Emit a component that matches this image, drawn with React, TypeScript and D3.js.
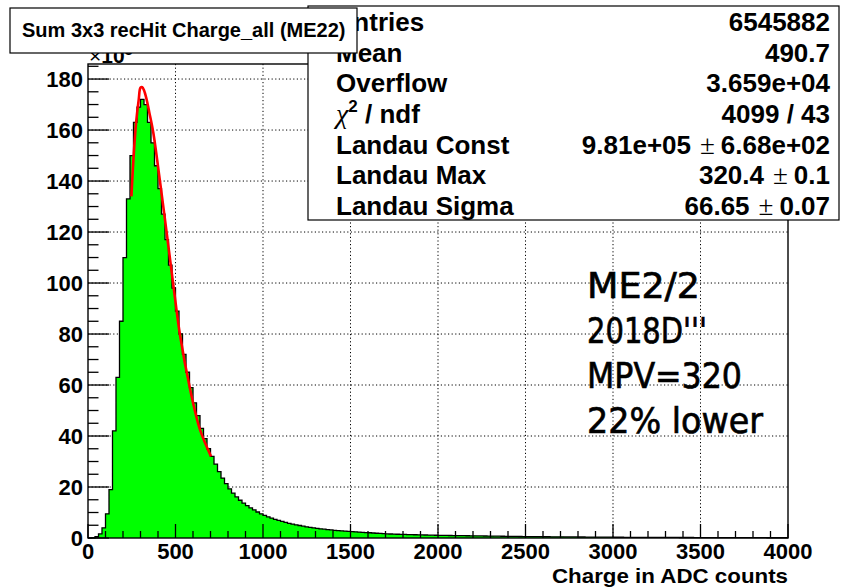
import React from 'react';
import * as d3 from 'd3';

// ---- data (counts in units of 10^3) ----
const binLow = 0;
const binHigh = 4000;
const binCounts = [
  0, 0.1, 0.5, 1.6, 4.0, 9.5, 19, 42, 63, 85,
  110, 133, 150, 163, 169, 172, 170, 163, 155, 146,
  137, 127, 117, 107, 98, 89, 80, 72, 65, 59,
  53, 48, 43, 39, 35, 32, 29, 26, 23.5, 21.3,
  19.3, 17.6, 16.1, 14.8, 13.7, 12.7, 11.8, 11.0, 10.2, 9.5,
  8.9, 8.3, 7.8, 7.3, 6.9, 6.5, 6.1, 5.75, 5.45, 5.15,
  4.9, 4.65, 4.4, 4.2, 4.0, 3.8, 3.6, 3.45, 3.3, 3.15,
  3.0, 2.9, 2.8, 2.7, 2.6, 2.5, 2.41, 2.32, 2.23, 2.14,
  2.05, 1.96, 1.87, 1.78, 1.69, 1.6, 1.56, 1.52, 1.48, 1.44,
  1.4, 1.36, 1.32, 1.28, 1.24, 1.2, 1.17, 1.14, 1.11, 1.08,
  1.05, 1.03, 1.01, 0.99, 0.97, 0.95, 0.93, 0.91, 0.89, 0.87,
  0.85, 0.83, 0.8, 0.78, 0.76, 0.74, 0.72, 0.7, 0.68, 0.66,
  0.64, 0.62, 0.6, 0.58, 0.56, 0.55, 0.54, 0.53, 0.52, 0.51,
  0.5, 0.49, 0.48, 0.47, 0.46, 0.45, 0.44, 0.43, 0.42, 0.41,
  0.4, 0.39, 0.38, 0.37, 0.36, 0.35, 0.34, 0.33, 0.32, 0.31,
  0.3, 0.29, 0.29, 0.28, 0.28, 0.27, 0.27, 0.26, 0.26, 0.25,
  0.25, 0.24, 0.24, 0.23, 0.23, 0.22, 0.22, 0.21, 0.21, 0.2,
  0.2, 0.19, 0.19, 0.18, 0.18, 0.17, 0.17, 0.16, 0.16, 0.15,
  0.15, 0.14, 0.14, 0.14, 0.13, 0.13, 0.13, 0.12, 0.12, 0.12,
  0.11, 0.11, 0.11, 0.11, 0.1, 0.1, 0.1, 0.1, 0.1, 0.1,
];

const fitCharge = [248, 260, 275, 290, 300, 310, 320, 335, 350, 373, 411, 450, 488, 526, 583, 640, 703];
const fitCounts = [134, 149, 163, 172, 176.6, 176.8, 175.6, 172, 167, 159, 140, 119.5, 99, 79.5, 58.5, 42.5, 32];

const xMajorTicks = [0, 500, 1000, 1500, 2000, 2500, 3000, 3500, 4000];
const yMajorTicks = [0, 20, 40, 60, 80, 100, 120, 140, 160, 180];
const yMax = 185.9;

const titleText = 'Sum 3x3 recHit Charge_all (ME22)';
const xAxisTitle = 'Charge in ADC counts';
const statLabels = ['Entries', 'Mean', 'Overflow', 'chi2', 'Landau Const', 'Landau Max', 'Landau Sigma'];
const statValues = ['6545882', '490.7', '3.659e+04', '4099 / 43', '9.81e+05 ± 6.68e+02', '320.4 ± 0.1', '66.65 ± 0.07'];
const noteLines = ['ME2/2', "2018D'''", 'MPV=320', '22% lower'];
const noteWidths = [113, 120, 155, 176];

const SANS = '"Liberation Sans", Arial, Helvetica, sans-serif';
const SERIF = '"Liberation Serif", "DejaVu Serif", serif';

export default function App() {
  const W = 848, H = 588;
  const L = 88, R = 788, T = 64, B = 538;
  const x = d3.scaleLinear().domain([binLow, binHigh]).range([L, R]);
  const y = d3.scaleLinear().domain([0, yMax]).range([B, T]);
  const binW = (binHigh - binLow) / binCounts.length;

  const pts: [number, number][] = binCounts.map((v, i) => [binLow + i * binW, v]);
  pts.push([binHigh, binCounts[binCounts.length - 1]]);

  const area = d3.area<[number, number]>()
    .x(d => x(d[0])).y0(y(0)).y1(d => y(d[1])).curve(d3.curveStepAfter);
  const line = d3.line<[number, number]>()
    .x(d => x(d[0])).y(d => y(d[1])).curve(d3.curveStepAfter);
  const fitLine = d3.line<number>()
    .x((_, i) => x(fitCharge[i])).y(d => y(d)).curve(d3.curveCatmullRom.alpha(0.5));

  const xMinor = d3.range(binLow, binHigh + 1, 100);
  const yMinor = d3.range(0, yMax, 5);

  const rowY0 = 31, rowStep = 30.67;
  const statFont = 26;

  const renderValue = (s: string) => {
    const parts = s.split(' ± ');
    if (parts.length === 1) return s;
    return (
      <>
        {parts[0]}
        <tspan dx={9} fontFamily={SERIF} fontWeight="normal" fontSize={27}>±</tspan>
        <tspan dx={6}>{parts[1]}</tspan>
      </>
    );
  };
  const renderLabel = (s: string) => {
    if (s === 'chi2') {
      return (
        <>
          <tspan fontFamily={SERIF} fontStyle="italic" fontWeight="normal" fontSize={28}>χ</tspan>
          <tspan dy={-11} fontSize={17}>2</tspan>
          <tspan dy={11}> / ndf</tspan>
        </>
      );
    }
    return s;
  };

  return (
    <svg width={W} height={H} style={{ position: 'absolute', left: 0, top: 0, background: '#fff' }}
      fontFamily={SANS}>
      <rect x={0} y={0} width={W} height={H} fill="#fff" />
      {/* grid */}
      {xMajorTicks.filter(t => t > binLow && t < binHigh).map(t => (
        <line key={'gx' + t} x1={x(t)} x2={x(t)} y1={T} y2={B} stroke="#000" strokeWidth={1} strokeDasharray="1.2 2.4" />
      ))}
      {yMajorTicks.filter(t => t > 0).map(t => (
        <line key={'gy' + t} x1={L} x2={R} y1={y(t)} y2={y(t)} stroke="#000" strokeWidth={1} strokeDasharray="1.2 2.4" />
      ))}
      {/* histogram */}
      <path d={area(pts) || ''} fill="#00ff00" />
      <path d={line(pts) || ''} fill="none" stroke="#000" strokeWidth={1.3} />
      {/* fit */}
      <path d={fitLine(fitCounts) || ''} fill="none" stroke="#ff0000" strokeWidth={2.6} />
      {/* frame */}
      <rect x={L} y={T} width={R - L} height={B - T} fill="none" stroke="#000" strokeWidth={1.4} />
      {/* x ticks */}
      {xMinor.map(t => {
        const major = t % 500 === 0;
        return <line key={'xt' + t} x1={x(t)} x2={x(t)} y1={B} y2={B - (major ? 14 : 7)} stroke="#000" strokeWidth={1.3} />;
      })}
      {yMinor.map(t => {
        const major = t % 20 === 0;
        return <line key={'yt' + t} x1={L} x2={L + (major ? 21 : 10.5)} y1={y(t)} y2={y(t)} stroke="#000" strokeWidth={1.3} />;
      })}
      {/* tick labels */}
      {xMajorTicks.map(t => (
        <text key={'xl' + t} x={x(t)} y={559} textAnchor="middle" fontSize={22} fontWeight="bold">{t}</text>
      ))}
      {yMajorTicks.map(t => (
        <text key={'yl' + t} x={L - 5} y={y(t) + 8} textAnchor="end" fontSize={22} fontWeight="bold">{t}</text>
      ))}
      <text x={L + 1} y={63} fontSize={21} fontWeight="bold">
        <tspan fontWeight="normal">×</tspan>10<tspan dy={-8} fontSize={14}>3</tspan>
      </text>
      <text x={R} y={582.5} textAnchor="end" fontSize={21} fontWeight="bold"
        textLength={236} lengthAdjust="spacingAndGlyphs">{xAxisTitle}</text>
      {/* annotation */}
      {noteLines.map((s, i) => (
        <text key={'n' + i} x={587} y={298 + i * 45} fontSize={36} stroke="#000" strokeWidth={0.7}
          fontFamily='"DejaVu Sans", sans-serif' textLength={noteWidths[i]} lengthAdjust="spacingAndGlyphs">{s}</text>
      ))}
      {/* stats box */}
      <rect x={308} y={6} width={531} height={214} fill="#fff" stroke="#000" strokeWidth={1.2} />
      {statLabels.map((s, i) => (
        <text key={'sl' + i} x={336} y={rowY0 + i * rowStep} fontSize={statFont} fontWeight="bold">{renderLabel(s)}</text>
      ))}
      {statValues.map((s, i) => (
        <text key={'sv' + i} x={830} y={rowY0 + i * rowStep} fontSize={statFont} fontWeight="bold" textAnchor="end">{renderValue(s)}</text>
      ))}
      {/* title box */}
      <rect x={10} y={8} width={347} height={45} fill="#fff" stroke="#000" strokeWidth={1.2} />
      <text x={22} y={37} fontSize={20} fontWeight="bold">{titleText}</text>
    </svg>
  );
}
